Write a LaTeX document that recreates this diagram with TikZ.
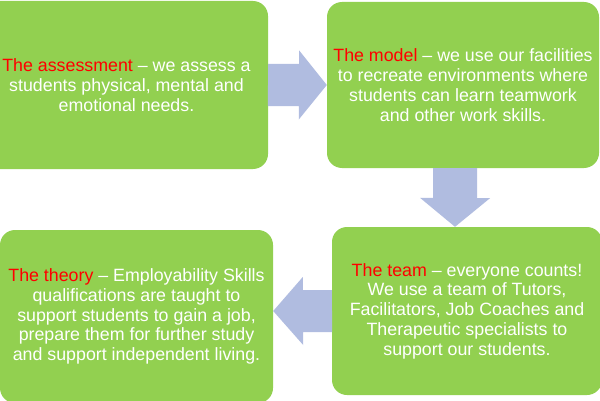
\documentclass[tikz,border=0pt]{standalone}
\usepackage{fontspec}
\setmainfont{Liberation Sans}
\usetikzlibrary{calc}

\definecolor{boxgreen}{HTML}{92D050}
\definecolor{arrowblue}{HTML}{B0BCE0}
\newcommand{\leadin}[1]{\textcolor{red}{#1}}

\tikzset{
  box/.style={fill=boxgreen, rounded corners=15pt, inner sep=0pt, text=white,
    align=center, font=\fontsize{17.8}{19.8}\selectfont},
  blockarrow/.style={fill=arrowblue}
}

\begin{document}
\begin{tikzpicture}[x=1pt,y=1pt]

  % Page
  \useasboundingbox (0,0) rectangle (600,400);
  \fill[white] (0,0) rectangle (600,400);

  % Boxes (clockwise from top left)
  \node[box, minimum width=283pt, minimum height=168pt] (assess) at (126.5,315)
    {\leadin{The assessment} -- we assess a\\students physical, mental and\\emotional needs.};
  \node[box, minimum width=272pt, minimum height=166pt] (model) at (463,315)
    {\leadin{The model} -- we use our facilities\\to recreate environments where\\students can learn teamwork\\and other work skills.};
  \node[box, minimum width=270pt, minimum height=168pt] (team) at (467,89)
    {\leadin{The team} -- everyone counts!\\We use a team of Tutors,\\Facilitators, Job Coaches and\\Therapeutic specialists to\\support our students.};
  \node[box, minimum width=273pt, minimum height=173pt] (theory) at (136.5,83.5)
    {\leadin{The theory} -- Employability Skills\\qualifications are taught to\\support students to gain a job,\\prepare them for further study\\and support independent living.};

  % Block arrows between the boxes
  \fill[blockarrow] ($(assess.east)+(0,21)$) -- ++(31,0) -- ++(0,13.5) -- (model.west)
    -- ++(-28,-34.5) -- ++(0,13.5) -- ++(-31,0) -- cycle;
  \fill[blockarrow] ($(model.south)+(-30,0)$) -- ++(44,0) -- ++(0,-30) -- ++(13,0)
    -- ($(team.north)+(-12,0)$) -- ++(-35,29) -- ++(13,0) -- cycle;
  \fill[blockarrow] ($(team.west)+(0,21)$) -- ++(-29,0) -- ++(0,13) -- (theory.east |- team.west)
    -- ++(30,-34) -- ++(0,13) -- ++(29,0) -- cycle;

\end{tikzpicture}
\end{document}
